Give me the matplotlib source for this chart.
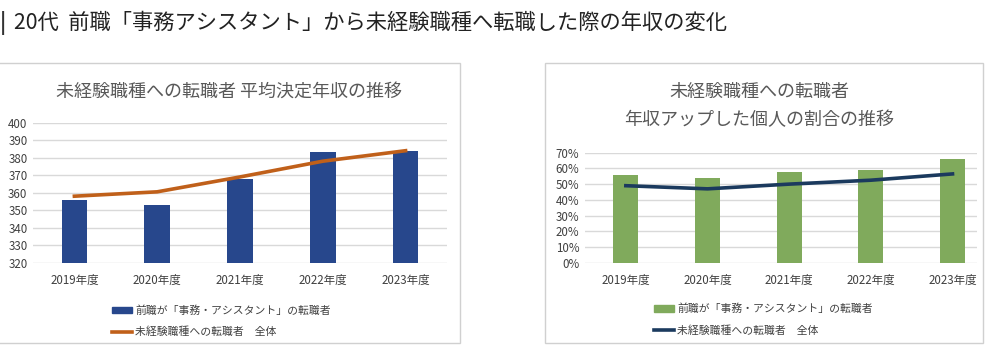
import matplotlib
matplotlib.use('Agg')
import matplotlib.pyplot as plt
from matplotlib.patches import Rectangle, Patch
from matplotlib.lines import Line2D
from matplotlib.ticker import PercentFormatter

plt.rcParams['font.family'] = ['Noto Sans CJK JP', 'DejaVu Sans']

# データ
nendo = ['2019年度', '2020年度', '2021年度', '2022年度', '2023年度']
nenshu_jimu = [356, 353, 368, 383, 384]
nenshu_zentai = [358, 360.5, 369, 378, 384]
up_jimu = [0.56, 0.54, 0.58, 0.59, 0.66]
up_zentai = [0.49, 0.47, 0.50, 0.525, 0.565]

label_jimu = '前職が「事務・アシスタント」の転職者'
label_zentai = '未経験職種への転職者\u3000全体'

W, H = 985, 355
fig = plt.figure(figsize=(W / 100, H / 100), dpi=100)

def px_axes(x0, y0, x1, y1):
    # ピクセル座標（上から）で軸を作る
    return fig.add_axes([x0 / W, 1 - y1 / H, (x1 - x0) / W, (y1 - y0) / H])

def waku(x0, y0, x1, y1):
    fig.patches.append(Rectangle((x0 / W, 1 - y1 / H), (x1 - x0) / W, (y1 - y0) / H,
                                 transform=fig.transFigure, fill=False,
                                 edgecolor='#d0d0d0', linewidth=1))

def style(ax):
    for s in ax.spines.values():
        s.set_visible(False)
    ax.grid(axis='y', color='#d9d9d9', linewidth=1)
    ax.set_axisbelow(True)
    ax.tick_params(length=0, labelsize=8.3, colors='#404040', pad=4)
    ax.tick_params(axis='x', pad=8)

# タイトル
fig.text(0 / W, 1 - 23 / H, '|', fontsize=15, va='center', color='#333333', fontweight='bold')
fig.text(14 / W, 1 - 23 / H, '20代  前職「事務アシスタント」から未経験職種へ転職した際の年収の変化',
         fontsize=15.3, va='center', color='#222222')

waku(-2, 63, 460, 343)
waku(545, 63, 983, 343)

# 左：平均決定年収
ax1 = px_axes(33, 122.7, 447, 262.7)
x = range(len(nendo))
ax1.bar(x, nenshu_jimu, width=0.31, color='#27478c', zorder=2)
ax1.plot(x, nenshu_zentai, color='#c0601a', linewidth=2.6, zorder=3)
ax1.set_ylim(320, 400)
ax1.set_yticks(range(320, 401, 10))
ax1.set_xlim(-0.5, 4.5)
ax1.set_xticks(list(x))
ax1.set_xticklabels(nendo)
style(ax1)
fig.text(229 / W, 1 - 92 / H, '未経験職種への転職者 平均決定年収の推移', fontsize=13, color='#595959',
         ha='center', va='center')
h1 = [Patch(color='#27478c'), Line2D([], [], color='#c0601a', linewidth=2.6)]
ax1.legend(h1, [label_jimu, label_zentai], loc='upper center', bbox_to_anchor=(0.455, -0.235),
           frameon=False, fontsize=7.8, handlelength=1.8, handleheight=0.5,
           labelspacing=1.0, handletextpad=0.3, labelcolor='#404040')

# 右：年収アップ割合
ax2 = px_axes(585, 152.7, 977, 262.7)
ax2.bar(x, up_jimu, width=0.31, color='#80aa5c', zorder=2)
ax2.plot(x, up_zentai, color='#1b3a5e', linewidth=2.6, zorder=3)
ax2.set_ylim(0, 0.7)
ax2.set_yticks([i / 10 for i in range(8)])
ax2.yaxis.set_major_formatter(PercentFormatter(1.0, decimals=0))
ax2.set_xlim(-0.5, 4.3)
ax2.set_xticks(list(x))
ax2.set_xticklabels(nendo)
style(ax2)
fig.text(759 / W, 1 - 92 / H, '未経験職種への転職者', fontsize=13, color='#595959',
         ha='center', va='center')
fig.text(759 / W, 1 - 120 / H, '年収アップした個人の割合の推移', fontsize=13, color='#595959',
         ha='center', va='center')
h2 = [Patch(color='#80aa5c'), Line2D([], [], color='#1b3a5e', linewidth=2.6)]
ax2.legend(h2, [label_jimu, label_zentai], loc='upper center', bbox_to_anchor=(0.455, -0.285),
           frameon=False, fontsize=7.8, handlelength=1.8, handleheight=0.5,
           labelspacing=1.0, handletextpad=0.3, labelcolor='#404040')

fig.savefig('out.png', dpi=100, facecolor='white')
